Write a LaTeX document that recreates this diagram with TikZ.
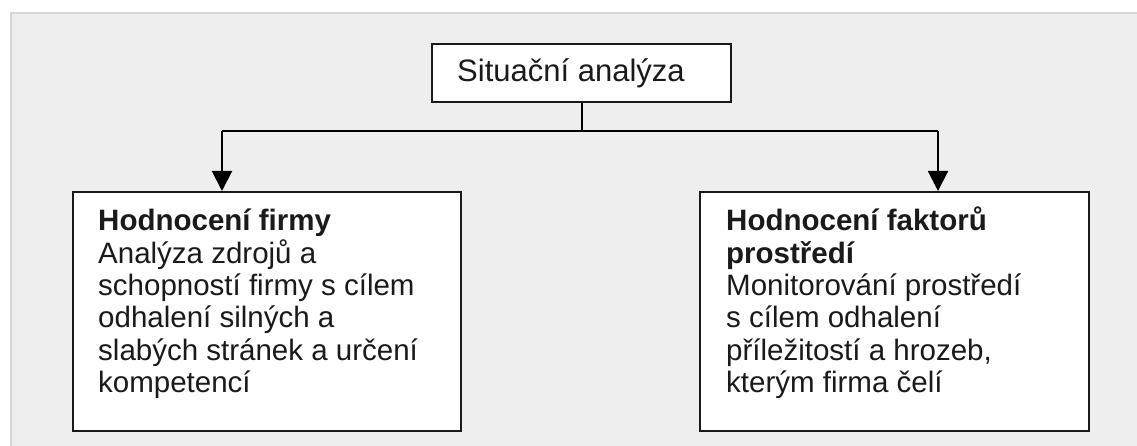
\documentclass[tikz,border=0pt]{standalone}
\usepackage{fontspec}
\setmainfont{Liberation Sans}
\usetikzlibrary{arrows.meta}
\definecolor{panel}{HTML}{EEEEEE}
\definecolor{paneledge}{HTML}{D6D6D6}
\definecolor{ink}{HTML}{1A1A1A}
\begin{document}
\begin{tikzpicture}[x=1pt,y=-1pt,
  box/.style={draw=ink, line width=2pt, fill=white, rectangle, inner sep=0pt},
  conn/.style={draw=black, line width=2pt},
  arr/.style={conn, -{Triangle[length=20pt,width=20pt]}},
  body/.style={inner sep=0pt, anchor=base west, text=ink, font=\fontsize{29.5}{32.3}\selectfont}
]
\useasboundingbox (0,0) rectangle (1137,446);
\fill[white] (0,0) rectangle (1137,446);
\fill[paneledge] (10,12) rectangle (1137,446);
\fill[panel] (12,14) rectangle (1137,446);
% boxes
\node[box, minimum width=299pt, minimum height=58pt, anchor=north west] (top) at (431,43) {};
\node[box, minimum width=388pt, minimum height=239pt, anchor=north west] (left) at (72,191) {};
\node[box, minimum width=389pt, minimum height=239pt, anchor=north west] (right) at (699,191) {};
% texts
\node[body, font=\fontsize{31}{34}\selectfont] (toptxt) at (457,81.5) {Situační analýza};
\node[body] (lefttxt) at (98,231) {\parbox[t]{340pt}{\raggedright
  \textbf{Hodnocení firmy}\\
  Analýza zdrojů a\\
  schopností firmy s cílem\\
  odhalení silných a\\
  slabých stránek a určení\\
  kompetencí}};
\node[body] (righttxt) at (726,231) {\parbox[t]{340pt}{\raggedright
  \textbf{Hodnocení faktorů}\\
  \textbf{prostředí}\\
  Monitorování prostředí\\
  s cílem odhalení\\
  příležitostí a hrozeb,\\
  kterým firma čelí}};
% connectors
\coordinate (split) at (top.south |- 0,131);
\coordinate (lcorner) at (222,131);
\coordinate (rcorner) at (938,131);
\draw[conn] (top.south) -- (split);
\draw[conn] (lcorner) -- (rcorner);
\draw[arr] (lcorner) -- (lcorner |- left.north);
\draw[arr] (rcorner) -- (rcorner |- right.north);
\end{tikzpicture}
\end{document}
